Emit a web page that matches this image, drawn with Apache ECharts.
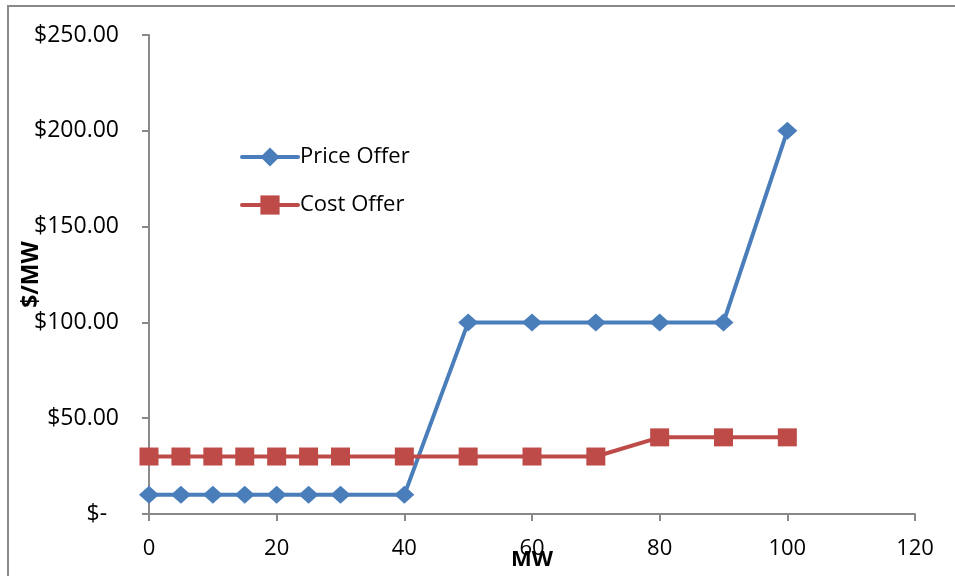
<!DOCTYPE html>
<html><head><meta charset="utf-8">
<script src="https://cdn.jsdelivr.net/npm/echarts@6/dist/echarts.min.js"></script>
<style>html,body{margin:0;padding:0;background:#fff}#c{width:955px;height:576px}</style>
</head><body><div id="c"></div>
<script>
const mw = [0, 5, 10, 15, 20, 25, 30, 40, 50, 60, 70, 80, 90, 100];
const priceOffer = [10, 10, 10, 10, 10, 10, 10, 10, 100, 100, 100, 100, 100, 200];
const costOffer = [30, 30, 30, 30, 30, 30, 30, 30, 30, 30, 30, 40, 40, 40];
const seriesNames = ['Price Offer', 'Cost Offer'];
const xTicks = [0, 20, 40, 60, 80, 100, 120];
const yTicks = [0, 50, 100, 150, 200, 250];

const FONT = 'Open Sans';
const chart = echarts.init(document.getElementById('c'));
const pair = (xs, ys) => xs.map((x, i) => [x, ys[i]]);
chart.setOption({
  animation: false,
  backgroundColor: '#fff',
  textStyle: { fontFamily: FONT },
  graphic: [{
    type: 'polyline',
    shape: { points: [[8, 600], [8, 6], [980, 6]] },
    style: { stroke: '#898989', lineWidth: 2, fill: null }
  }],
  grid: { left: 149, right: 40, top: 35, bottom: 62, outerBoundsMode: 'none', containLabel: false },
  legend: {
    orient: 'vertical',
    left: 240, top: 145, padding: 0,
    itemWidth: 56, itemHeight: 24, itemGap: 24,
    lineStyle: { width: 4, cap: 'round' },
    textStyle: { fontFamily: FONT, fontSize: 22, lineHeight: 24, color: '#000', padding: [0, 0, 0, -3] },
    data: seriesNames
  },
  xAxis: {
    type: 'value', min: xTicks[0], max: xTicks[xTicks.length - 1], interval: 20,
    name: 'MW', nameLocation: 'middle', nameGap: 35, nameMoveOverlap: false,
    nameTextStyle: { fontFamily: FONT, fontSize: 22, fontWeight: 'bold', color: '#000' },
    axisLine: { lineStyle: { color: '#898989', width: 2 } },
    axisTick: { show: true, length: 7, lineStyle: { color: '#898989', width: 2 } },
    axisLabel: { fontFamily: FONT, fontSize: 22, color: '#000', margin: 24 },
    splitLine: { show: false }
  },
  yAxis: {
    type: 'value', min: yTicks[0], max: yTicks[yTicks.length - 1], interval: 50,
    name: '$/MW', nameLocation: 'middle', nameGap: 106, nameRotate: 90, nameMoveOverlap: false,
    nameTextStyle: { fontFamily: FONT, fontSize: 23, fontWeight: 'bold', color: '#000' },
    axisLine: { show: true, lineStyle: { color: '#898989', width: 2 } },
    axisTick: { show: true, length: 7, lineStyle: { color: '#898989', width: 2 } },
    axisLabel: {
      fontFamily: FONT, fontSize: 23, color: '#000', margin: 30,
      formatter: v => v === 0 ? '$-  ' : '$' + v.toFixed(2)
    },
    splitLine: { show: false }
  },
  series: [
    {
      name: seriesNames[0], type: 'line', data: pair(mw, priceOffer),
      symbol: 'diamond', symbolSize: [20, 18],
      lineStyle: { color: '#4a7ebb', width: 4 },
      itemStyle: { color: '#4a7ebb' }
    },
    {
      name: seriesNames[1], type: 'line', data: pair(mw, costOffer),
      symbol: 'rect', symbolSize: [19, 18],
      lineStyle: { color: '#be4b48', width: 4 },
      itemStyle: { color: '#be4b48' }
    }
  ]
});
</script></body></html>
